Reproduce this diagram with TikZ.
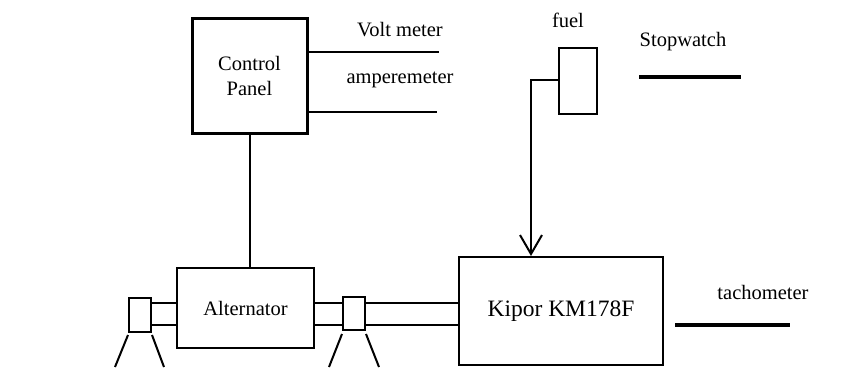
\documentclass[tikz,border=0pt]{standalone}
\usepackage{fontspec}
\setmainfont{Liberation Serif}
\usepackage{tikz}
\usetikzlibrary{arrows.meta,positioning}

\begin{document}
\begin{tikzpicture}[
        x=1pt, y=-1pt,
        box/.style={draw, line width=2pt, inner sep=0pt, align=center,
                    font=\fontsize{20.5}{25}\selectfont},
        lbl/.style={inner sep=0pt, font=\fontsize{20.5}{25}\selectfont},
        arr/.style={-{Straight Barb[length=19pt,width=22pt,line width=2pt]}, line width=2pt},
        wire/.style={line width=2pt},
        meter/.style={line width=3.5pt},
    ]
        \useasboundingbox (0,0) rectangle (844,370);

        % control side
        \node[box, line width=3pt, minimum width=115pt, minimum height=115pt] (cp) at (249.5,75.5) {Control\\Panel};
        \node[box, minimum width=137pt, minimum height=80pt] (alt) at (245.5,308) {Alternator};
        \node[box, minimum width=204pt, minimum height=108pt, font=\fontsize{23.5}{28}\selectfont] (eng) at (561,311) {Kipor KM178F};

        % bearings
        \node[box, minimum width=22pt, minimum height=34pt] (lb) at (140,315) {};
        \node[box, minimum width=22pt, minimum height=33pt] (rb) at (354,313.5) {};

        % fuel tank
        \node[box, minimum width=38pt, minimum height=66pt] (tank) at (578,81) {};
        \node[lbl] (fuel) at (568,20) {fuel};

        % meters
        \node[lbl] (volt) at (400,30) {Volt meter};
        \node[lbl] (amp) at (400,80) {amperemeter};
        \node[lbl] (sw) at (683,42) {Stopwatch};
        \node[lbl] (tach) at (763,292) {tachometer};

        \coordinate (vm) at (439,52);
        \coordinate (am) at (437,112);
        \coordinate (swA) at (639,77);
        \coordinate (swB) at (741,77);
        \coordinate (tcA) at (675,325);
        \coordinate (tcB) at (790,325);
        \coordinate (drop) at (531,80);
        \coordinate (shA) at (0,303);
        \coordinate (shB) at (0,325);

        \draw[wire] (cp.south) -- (cp.south |- alt.north);
        \draw[wire] (cp.east |- vm) -- (vm);
        \draw[wire] (cp.east |- am) -- (am);
        \draw[meter] (swA) -- (swB);
        \draw[meter] (tcA) -- (tcB);
        \draw[arr] (tank.west |- drop) -- (drop) -- (drop |- eng.north);

        % shafts
        \draw[wire] (lb.east |- shA) -- (alt.west |- shA);
        \draw[wire] (lb.east |- shB) -- (alt.west |- shB);
        \draw[wire] (alt.east |- shA) -- (rb.west |- shA);
        \draw[wire] (alt.east |- shB) -- (rb.west |- shB);
        \draw[wire] (rb.east |- shA) -- (eng.west |- shA);
        \draw[wire] (rb.east |- shB) -- (eng.west |- shB);

        % legs
        \draw[wire] ([yshift=-2pt]lb.south west) -- ++(-13,32);
        \draw[wire] ([yshift=-2pt]lb.south east) -- ++(12,32);
        \draw[wire] ([yshift=-3pt]rb.south west) -- ++(-13,33);
        \draw[wire] ([yshift=-3pt]rb.south east) -- ++(13,33);
    \end{tikzpicture}
\end{document}
